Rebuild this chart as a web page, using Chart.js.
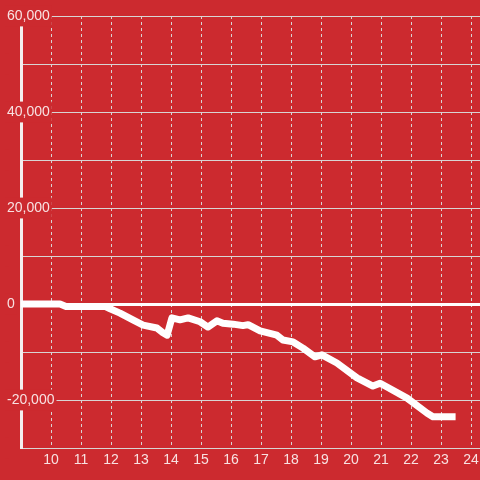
<!DOCTYPE html>
<html>
<head>
<meta charset="utf-8">
<script src="https://cdn.jsdelivr.net/npm/chart.js@4"></script>
<style>
  html, body { margin: 0; padding: 0; background: #cc2a2f; }
  #wrap { width: 480px; height: 480px; position: relative; }
</style>
</head>
<body>
<div id="wrap"><canvas id="chart"></canvas></div>
<script>
/* ── Data ─────────────────────────────────────────────── */
const hours = [
  9.0, 10.3, 10.5, 11.8, 11.97, 12.3, 12.73, 13.07, 13.53, 13.73, 13.87,
  14.03, 14.3, 14.57, 14.97, 15.23, 15.53, 15.73, 16.07, 16.4, 16.57,
  16.97, 17.53, 17.73, 18.07, 18.4, 18.8, 19.03, 19.53, 20.2, 20.73,
  20.97, 21.2, 21.87, 22.53, 22.73, 23.37
];
const balance = [
  0, 0, -500, -500, -1000, -1900, -3300, -4400, -5000, -6000, -6500,
  -2900, -3300, -2900, -3700, -4800, -3500, -4000, -4200, -4500, -4300,
  -5600, -6500, -7500, -7900, -9200, -11000, -10600, -12300, -15400, -17100,
  -16500, -17300, -19600, -22700, -23500, -23500
];
const xTicks = [10, 11, 12, 13, 14, 15, 16, 17, 18, 19, 20, 21, 22, 23, 24];
const yTicks = [-30000, -20000, -10000, 0, 10000, 20000, 30000, 40000, 50000, 60000];
const yLabels = ['-20,000', '0', '20,000', '40,000', '60,000'];

const BG       = '#cc2a2f';
const LABEL    = 'rgba(255,255,255,0.86)';
const GRID     = '#d8d4d4';
const FONT     = { family: '"Liberation Sans", Arial, sans-serif', size: 14 };

const points = hours.map((h, i) => ({ x: h, y: balance[i] }));

new Chart(document.getElementById('chart'), {
  type: 'line',
  data: {
    datasets: [{
      data: points,
      borderColor: '#ffffff',
      borderWidth: 7,
      borderCapStyle: 'square',
      borderJoinStyle: 'round',
      pointRadius: 0,
      tension: 0,
      fill: false
    }]
  },
  options: {
    responsive: true,
    maintainAspectRatio: false,
    animation: false,
    layout: { padding: { top: 16, left: 6, right: 0, bottom: 0 } },
    plugins: { legend: { display: false }, tooltip: { enabled: false } },
    scales: {
      x: {
        type: 'linear',
        min: 9,
        max: 24.3,
        afterBuildTicks: s => { s.ticks = xTicks.map(v => ({ value: v })); },
        afterFit: s => { s.height = 32; s.paddingRight = 0; s.paddingLeft = 0; },
        grid: { color: GRID, lineWidth: 1, drawTicks: false },
        border: { color: GRID, width: 1, dash: [3, 3] },
        ticks: {
          includeBounds: false,
          padding: 4,
          maxRotation: 0,
          autoSkip: false,
          color: LABEL,
          font: FONT,
          callback: v => String(v)
        }
      },
      y: {
        type: 'linear',
        min: -30000,
        max: 60000,
        afterBuildTicks: s => { s.ticks = yTicks.map(v => ({ value: v })); },
        afterFit: s => { s.width = 15; },
        grid: {
          drawTicks: false,
          color: c => c.tick && c.tick.value === 0 ? '#ffffff' : GRID,
          lineWidth: c => c.tick && c.tick.value === 0 ? 3 : 1
        },
        border: { color: '#f4eeee', width: 3 },
        ticks: {
          mirror: true,
          padding: -14,
          color: LABEL,
          font: FONT,
          showLabelBackdrop: true,
          backdropColor: BG,
          backdropPadding: 2,
          callback: v => {
            const s = Number(v).toLocaleString('en-US');
            return yLabels.includes(s) ? s : '';
          }
        }
      }
    }
  }
});
</script>
</body>
</html>
